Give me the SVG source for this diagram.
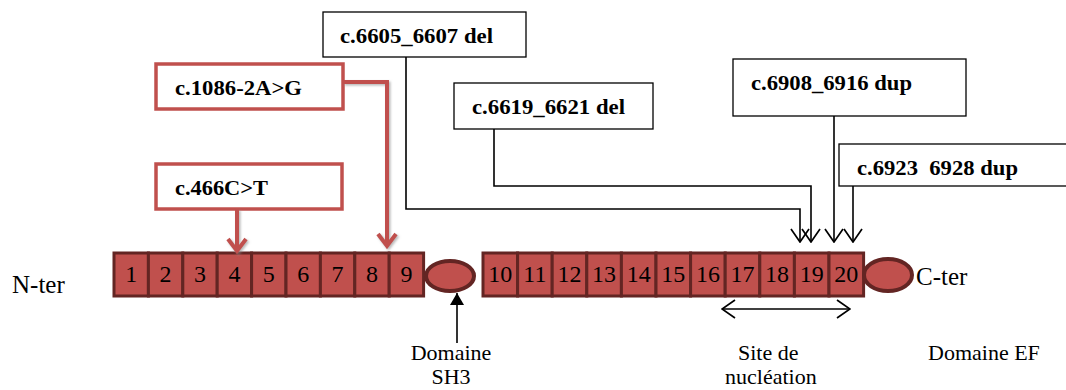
<svg xmlns="http://www.w3.org/2000/svg" width="1066" height="390" viewBox="0 0 1066 390">
<style>
.cell{fill:#c0504d;stroke:#632523;stroke-width:3}
.num{font-family:"Liberation Serif","Times New Roman",serif;font-size:24px;fill:#000;text-anchor:middle}
.lbl{font-family:"Liberation Serif","Times New Roman",serif;font-size:22px;fill:#000}
.big{font-size:25px}
.mut{font-family:"Liberation Serif","Times New Roman",serif;font-size:21px;font-weight:bold;fill:#000;white-space:pre}
.rbox{fill:#fff;stroke:#c0504d;stroke-width:3.5}
.kbox{fill:#fff;stroke:#000;stroke-width:1.3}
.rline{fill:none;stroke:#c0504d;stroke-width:4}
.kline{fill:none;stroke:#000;stroke-width:1.6}
.ell{fill:#c0504d;stroke:#632523;stroke-width:4}
</style>
<defs>
<marker id="chev" viewBox="0 0 15 20" refX="14" refY="10" markerWidth="15" markerHeight="20" orient="auto-start-reverse" markerUnits="userSpaceOnUse">
<path d="M1,1 L14,10 L1,19" fill="none" stroke="#000" stroke-width="1.7"/>
</marker>
<marker id="tri" viewBox="0 0 12 14" refX="12" refY="7" markerWidth="12" markerHeight="14" orient="auto" markerUnits="userSpaceOnUse">
<path d="M0,0 L12,7 L0,14 z" fill="#000"/>
</marker>
<filter id="sh" x="-50%" y="-50%" width="200%" height="200%">
<feDropShadow dx="1.5" dy="1.5" stdDeviation="1" flood-color="#888" flood-opacity="0.6"/>
</filter>
</defs>

<g id="nter"><text class="lbl big" x="12" y="293">N-ter</text></g>

<g id="bar1">
<rect class="cell" x="114" y="253" width="34.4" height="43"/>
<rect class="cell" x="148.4" y="253" width="34.4" height="43"/>
<rect class="cell" x="182.8" y="253" width="34.4" height="43"/>
<rect class="cell" x="217.2" y="253" width="34.4" height="43"/>
<rect class="cell" x="251.6" y="253" width="34.4" height="43"/>
<rect class="cell" x="286" y="253" width="34.4" height="43"/>
<rect class="cell" x="320.4" y="253" width="34.4" height="43"/>
<rect class="cell" x="354.8" y="253" width="34.4" height="43"/>
<rect class="cell" x="389.2" y="253" width="34.4" height="43"/>
<text class="num" x="131.2" y="282">1</text>
<text class="num" x="165.6" y="282">2</text>
<text class="num" x="200" y="282">3</text>
<text class="num" x="234.4" y="282">4</text>
<text class="num" x="268.8" y="282">5</text>
<text class="num" x="303.2" y="282">6</text>
<text class="num" x="337.6" y="282">7</text>
<text class="num" x="372" y="282">8</text>
<text class="num" x="406.4" y="282">9</text>
</g>

<g id="sh3"><ellipse class="ell" cx="450" cy="276" rx="24" ry="15"/></g>

<g id="bar2">
<rect class="cell" x="483" y="253" width="34.6" height="43"/>
<rect class="cell" x="517.6" y="253" width="34.6" height="43"/>
<rect class="cell" x="552.2" y="253" width="34.6" height="43"/>
<rect class="cell" x="586.8" y="253" width="34.6" height="43"/>
<rect class="cell" x="621.4" y="253" width="34.6" height="43"/>
<rect class="cell" x="656" y="253" width="34.6" height="43"/>
<rect class="cell" x="690.6" y="253" width="34.6" height="43"/>
<rect class="cell" x="725.2" y="253" width="34.6" height="43"/>
<rect class="cell" x="759.8" y="253" width="34.6" height="43"/>
<rect class="cell" x="794.4" y="253" width="34.6" height="43"/>
<rect class="cell" x="829" y="253" width="34.6" height="43"/>
<text class="num" x="500.3" y="282">10</text>
<text class="num" x="534.9" y="282">11</text>
<text class="num" x="569.5" y="282">12</text>
<text class="num" x="604.1" y="282">13</text>
<text class="num" x="638.7" y="282">14</text>
<text class="num" x="673.3" y="282">15</text>
<text class="num" x="707.9" y="282">16</text>
<text class="num" x="742.5" y="282">17</text>
<text class="num" x="777.1" y="282">18</text>
<text class="num" x="811.7" y="282">19</text>
<text class="num" x="846.3" y="282">20</text>
</g>

<g id="ef"><ellipse class="ell" cx="888" cy="275" rx="24" ry="16"/></g>
<g id="cter"><text class="lbl big" x="916" y="285">C-ter</text></g>

<g id="m466"><rect class="rbox" x="156" y="164" width="186" height="45"/><text class="mut" x="175" y="195" textLength="93" lengthAdjust="spacingAndGlyphs">c.466C&gt;T</text></g>
<g id="m1086"><rect class="rbox" x="156" y="64" width="187" height="45"/><text class="mut" x="175" y="95" textLength="127" lengthAdjust="spacingAndGlyphs">c.1086-2A&gt;G</text></g>
<g id="m6605"><rect class="kbox" x="323" y="12" width="203" height="45"/><text class="mut" x="340" y="43" textLength="153" lengthAdjust="spacingAndGlyphs">c.6605_6607 del</text></g>
<g id="m6619"><rect class="kbox" x="454" y="83" width="199" height="46"/><text class="mut" x="472" y="114" textLength="153" lengthAdjust="spacingAndGlyphs">c.6619_6621 del</text></g>
<g id="m6908"><rect class="kbox" x="733" y="59" width="233" height="57"/><text class="mut" x="751" y="90" textLength="161" lengthAdjust="spacingAndGlyphs">c.6908_6916 dup</text></g>
<g id="m6923"><rect class="kbox" x="839" y="144" width="240" height="42"/><text class="mut" x="857" y="175" textLength="161" lengthAdjust="spacingAndGlyphs">c.6923  6928 dup</text></g>

<g id="labels">
<text class="lbl" x="451" y="360" text-anchor="middle">Domaine</text>
<text class="lbl" x="451" y="384" text-anchor="middle">SH3</text>
<text class="lbl" x="738" y="360">Site de</text>
<text class="lbl" x="725" y="384">nucléation</text>
<text class="lbl" x="928" y="360">Domaine EF</text>
</g>

<g id="connectors">
<g filter="url(#sh)">
<path class="rline" d="M237,209 V251"/>
<path d="M228,239 L237,251 L246,239" fill="none" stroke="#c0504d" stroke-width="4"/>
<path class="rline" d="M343,82 H387 V246"/>
<path d="M378,234 L387,246 L396,234" fill="none" stroke="#c0504d" stroke-width="4"/>
</g>
<path class="kline" d="M406,57 V209 H800 V242" marker-end="url(#chev)"/>
<path class="kline" d="M494,129 V186 H811 V242" marker-end="url(#chev)"/>
<path class="kline" d="M834,116 V242" marker-end="url(#chev)"/>
<path class="kline" d="M853,186 V242" marker-end="url(#chev)"/>
<path class="kline" d="M722,309 H850" marker-start="url(#chev)" marker-end="url(#chev)"/>
<path class="kline" d="M457,343 V293" marker-end="url(#tri)"/>
</g>
</svg>
